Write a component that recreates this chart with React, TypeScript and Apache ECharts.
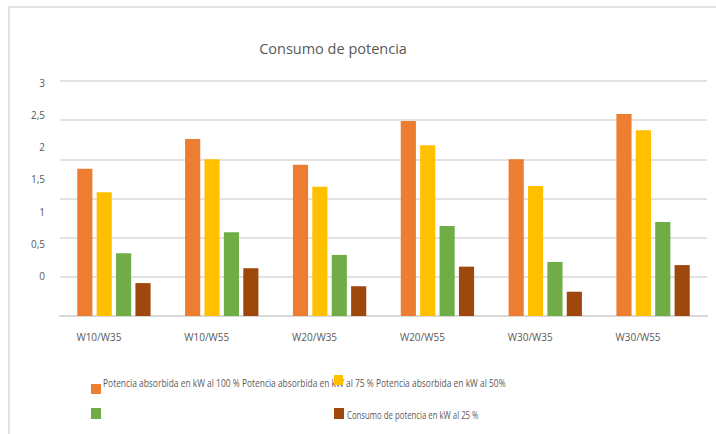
import React, { useEffect, useRef } from "react";
import * as echarts from "echarts";

const categories = ["W10/W35", "W10/W55", "W20/W35", "W20/W55", "W30/W35", "W30/W55"];
const seriesNames = [
  "Potencia absorbida en kW al 100 %",
  "Potencia absorbida en kW al 75 %",
  "Potencia absorbida en kW al 50%",
  "Consumo de potencia en kW al 25 %",
];
const values100 = [1.88, 2.26, 1.93, 2.49, 2.0, 2.58];
const values75 = [1.58, 2.0, 1.65, 2.18, 1.66, 2.37];
const values50 = [0.8, 1.07, 0.78, 1.15, 0.69, 1.2];
const values25 = [0.42, 0.61, 0.38, 0.63, 0.31, 0.65];
const tickLabels = [0, 0.5, 1, 1.5, 2, 2.5, 3];
const colors = ["#ED7D31", "#FFC000", "#70AD47", "#9E480E"];

const FONT = "'Open Sans', 'Noto Sans', sans-serif";
const TXT = "#595959";

export default function App() {
  const ref = useRef<HTMLDivElement>(null);
  useEffect(() => {
    if (!ref.current) return;
    const chart = echarts.init(ref.current, undefined, { renderer: "svg" });
    const data = [values100, values75, values50, values25];
    chart.setOption({
      animation: false,
      backgroundColor: "#ffffff",
      title: {
        text: "Consumo de potencia",
        left: 328,
        top: 36,
        textAlign: "center",
        textStyle: { fontFamily: FONT, fontSize: 14.5, fontWeight: "normal", color: TXT },
      },
      grid: { left: 60, right: 9, top: 81, bottom: 118, containLabel: false },
      xAxis: {
        type: "category",
        data: categories,
        axisLine: { lineStyle: { color: "#d9d9d9", width: 2 } },
        axisTick: { show: false },
        axisLabel: {
          color: TXT,
          fontFamily: FONT,
          fontSize: 10,
          margin: 16,
          padding: [0, 30, 0, 0],
        },
      },
      yAxis: [
        {
          type: "value",
          min: 0,
          max: 3,
          interval: 0.5,
          axisLabel: { show: false },
          axisLine: { show: false },
          axisTick: { show: false },
          splitLine: { lineStyle: { color: "#d9d9d9", width: 1.5 } },
        },
        {
          type: "value",
          position: "left",
          min: -0.6218,
          max: 3.031,
          axisLine: { show: false },
          axisTick: { show: false },
          splitLine: { show: false },
          axisLabel: {
            customValues: tickLabels,
            color: TXT,
            fontFamily: FONT,
            fontSize: 10,
            margin: 15,
            formatter: (v: number) => String(v).replace(".", ","),
          },
        },
      ],
      series: seriesNames.map((name, i) => ({
        name,
        type: "bar",
        data: data[i],
        yAxisIndex: 0,
        barGap: "28%",
        barCategoryGap: "32%",
        itemStyle: { color: colors[i] },
      })),
      graphic: [
        {
          type: "rect",
          shape: { x: 9, y: 7, width: 740, height: 460 },
          style: { fill: "none", stroke: "#d9d9d9", lineWidth: 1.5 },
          silent: true,
        },
        { type: "rect", shape: { x: 91, y: 384, width: 10, height: 10 }, style: { fill: colors[0] } },
        {
          type: "text",
          x: 103,
          y: 383,
          scaleX: 0.843,
          style: {
            text: seriesNames[0] + " " + seriesNames[1] + " " + seriesNames[2],
            fill: TXT,
            font: "10px " + FONT,
            verticalAlign: "middle",
          },
        },
        { type: "rect", shape: { x: 334, y: 375, width: 9, height: 10 }, style: { fill: colors[1] } },
        { type: "rect", shape: { x: 91, y: 408, width: 10, height: 11 }, style: { fill: colors[2] } },
        { type: "rect", shape: { x: 334, y: 408, width: 10, height: 11 }, style: { fill: colors[3] } },
        {
          type: "text",
          x: 347,
          y: 415,
          scaleX: 0.78,
          style: {
            text: seriesNames[3],
            fill: TXT,
            font: "10px " + FONT,
            verticalAlign: "middle",
          },
        },
      ],
    });
    return () => chart.dispose();
  }, []);
  return <div ref={ref} style={{ width: 716, height: 434, position: "absolute", left: 0, top: 0 }} />;
}
